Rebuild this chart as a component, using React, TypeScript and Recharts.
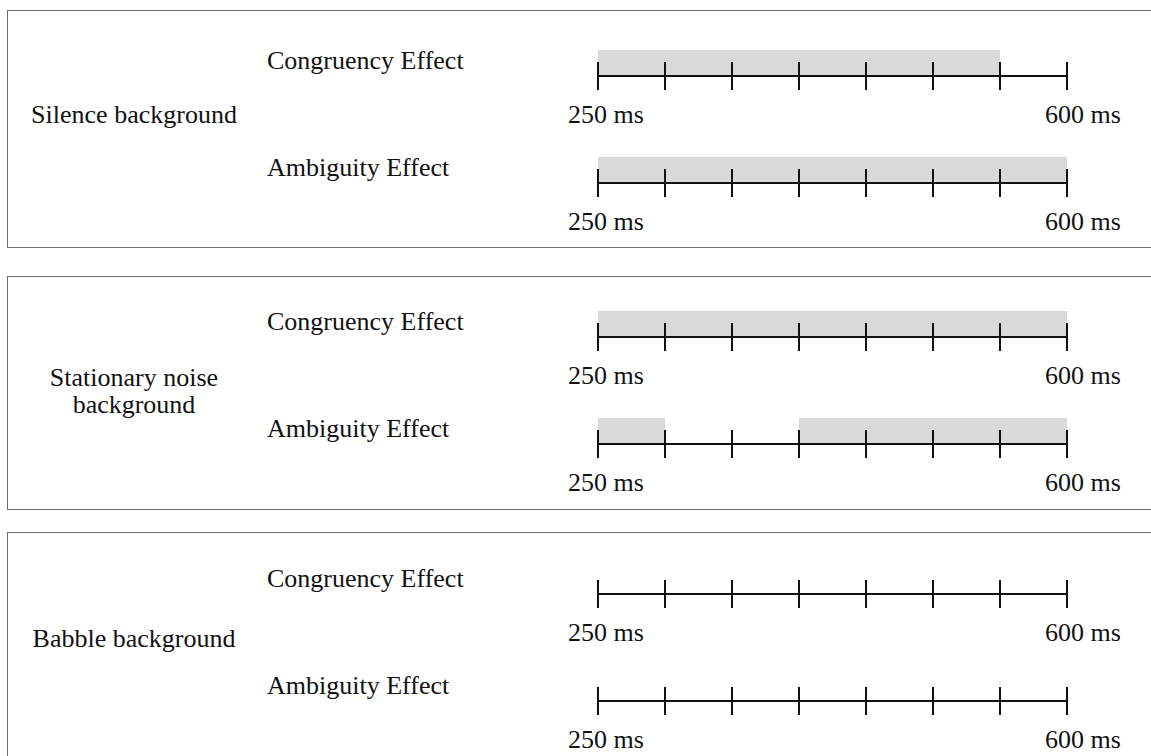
import React from 'react';
import { BarChart, XAxis, YAxis, ReferenceArea } from 'recharts';

// condition / effect names
const PANEL_LABELS = [['Silence background'], ['Stationary noise', 'background'], ['Babble background']];
const EFFECTS = ['Congruency Effect', 'Ambiguity Effect'];

// time axis (ms)
const AXIS_TICKS = [250, 300, 350, 400, 450, 500, 550, 600];
const LABELED_TICKS = [250, 600];
const TIME_UNIT = 'ms';

// windows where the effect was significant, [from, to] in ms
const silenceCongruency = [[250, 550]];
const silenceAmbiguity = [[250, 600]];
const stationaryCongruency = [[250, 600]];
const stationaryAmbiguity = [[250, 300], [400, 600]];
const babbleCongruency: number[][] = [];
const babbleAmbiguity: number[][] = [];

const WINDOWS = [
  [silenceCongruency, silenceAmbiguity],
  [stationaryCongruency, stationaryAmbiguity],
  [babbleCongruency, babbleAmbiguity],
];

// layout
const W = 1151;
const FONT = '"Liberation Serif", "Times New Roman", serif';
const INK = '#111';
const BAND = 26;
const TOP = 16;
const AXIS_H = 60;
const PANEL_BOXES = [
  { top: 10, height: 237.5, axes: [75.7, 183], labelY: [123] },
  { top: 275.5, height: 234, axes: [337, 444], labelY: [385.5, 413] },
  { top: 532, height: 300, axes: [593.5, 701], labelY: [647] },
];

const EffectTick = (props: any) => {
  const { y, payload } = props;
  return (
    <text x={267} y={y + 5.5} fontSize={26} fontFamily={FONT} fill={INK}>
      {payload.value}
    </text>
  );
};

const TimeTick = (props: any) => {
  const { x, y, payload } = props;
  const v = payload.value;
  const show = LABELED_TICKS.includes(v);
  const dx = v === LABELED_TICKS[0] ? -30 : -22;
  return (
    <g>
      <line x1={x} x2={x} y1={y - 14} y2={y + 14} stroke={INK} strokeWidth={2} />
      {show && (
        <text x={x + dx} y={y + 47} fontSize={26} fontFamily={FONT} fill={INK}>
          {`${v} ${TIME_UNIT}`}
        </text>
      )}
    </g>
  );
};

function EffectRow({ label, windows, axisY }: { label: string; windows: number[][]; axisY: number }) {
  const data = [{ effect: label }];
  return (
    <div style={{ position: 'absolute', left: 0, top: axisY - BAND - TOP }}>
      <BarChart
        width={W}
        height={TOP + BAND + AXIS_H}
        data={data}
        layout="vertical"
        margin={{ top: TOP, right: 84, bottom: 0, left: 0 }}
      >
        {windows.map(([a, b], i) => (
          <ReferenceArea key={i} x1={a} x2={b} fill="#d9d9d9" fillOpacity={1} stroke="none" />
        ))}
        <YAxis type="category" dataKey="effect" width={598} axisLine={false} tickLine={false} tick={<EffectTick />} />
        <XAxis
          type="number"
          domain={[AXIS_TICKS[0], AXIS_TICKS[AXIS_TICKS.length - 1]]}
          ticks={AXIS_TICKS}
          interval={0}
          height={AXIS_H}
          tickSize={0}
          tickMargin={0}
          tickLine={false}
          axisLine={{ stroke: INK, strokeWidth: 2 }}
          tick={<TimeTick />}
          allowDataOverflow
        />
      </BarChart>
    </div>
  );
}

export default function App() {
  return (
    <div style={{ position: 'absolute', left: 0, top: 0, width: W, height: 756, overflow: 'hidden', background: '#fff' }}>
      {PANEL_BOXES.map((p, i) => (
        <div
          key={'box' + i}
          style={{
            position: 'absolute',
            left: 7,
            top: p.top,
            width: W + 20,
            height: p.height,
            border: '1.5px solid #6b6b6b',
            boxSizing: 'border-box',
          }}
        />
      ))}
      <svg width={W} height={756} style={{ position: 'absolute', left: 0, top: 0 }}>
        {PANEL_BOXES.map((p, i) =>
          PANEL_LABELS[i].map((line, j) => (
            <text key={i + '-' + j} x={134} y={p.labelY[j]} textAnchor="middle" fontSize={26} fontFamily={FONT} fill={INK}>
              {line}
            </text>
          ))
        )}
      </svg>
      {PANEL_BOXES.map((p, i) =>
        EFFECTS.map((eff, j) => (
          <EffectRow key={i + '-' + j} label={eff} windows={WINDOWS[i][j]} axisY={p.axes[j]} />
        ))
      )}
    </div>
  );
}
